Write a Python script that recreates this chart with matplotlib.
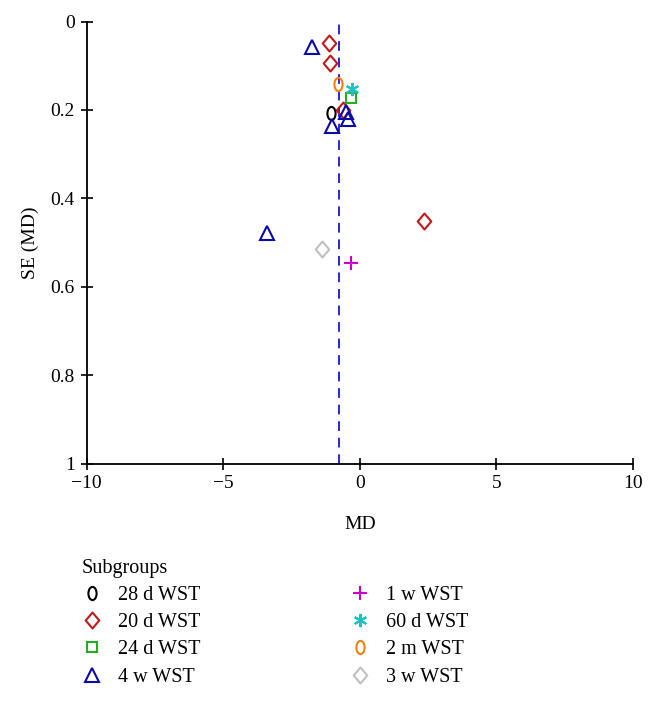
import matplotlib
matplotlib.use("Agg")
import matplotlib.pyplot as plt
import numpy as np
from matplotlib.path import Path
from matplotlib.transforms import Affine2D

plt.rcParams['font.family'] = ['Liberation Serif', 'DejaVu Serif']

# ---- data ----
groups = ["28 d WST", "20 d WST", "24 d WST", "4 w WST",
          "1 w WST", "60 d WST", "2 m WST", "3 w WST"]
md_28d = [-1.04]
se_28d = [0.207]
md_20d = [-1.14, -1.09, -0.63, 2.35]
se_20d = [0.049, 0.094, 0.200, 0.452]
md_24d = [-0.31]
se_24d = [0.173]
md_4w = [-1.75, -0.51, -0.45, -1.02, -3.41]
se_4w = [0.058, 0.204, 0.221, 0.237, 0.478]
md_1w = [-0.33]
se_1w = [0.547]
md_60d = [-0.27]
se_60d = [0.153]
md_2m = [-0.79]
se_2m = [0.141]
md_3w = [-1.39]
se_3w = [0.514]
pooled_md = -0.78

xticks = [-10, -5, 0, 5, 10]
yticks = [0, 0.2, 0.4, 0.6, 0.8, 1]

# ---- marker shapes ----
ellipse = Path.unit_circle().transformed(Affine2D().scale(0.62, 1.0))
diamond = Path([(0, 1), (0.85, 0), (0, -1), (-0.85, 0), (0, 1)],
               [Path.MOVETO, Path.LINETO, Path.LINETO, Path.LINETO, Path.CLOSEPOLY])

styles = {
    "28 d WST": dict(marker=ellipse, color="#000000", ms=9.5),
    "20 d WST": dict(marker=diamond, color="#C01818", ms=11.5),
    "24 d WST": dict(marker="s", color="#22B022", ms=7.5),
    "4 w WST": dict(marker="^", color="#0A0AA8", ms=10.5),
    "1 w WST": dict(marker="+", color="#C800C8", ms=9.5),
    "60 d WST": dict(marker=(6, 2, 0), color="#20C0C0", ms=9.5),
    "2 m WST": dict(marker=ellipse, color="#F08010", ms=9.5),
    "3 w WST": dict(marker=diamond, color="#C0C0C0", ms=11.5),
}
data = {
    "28 d WST": (md_28d, se_28d),
    "20 d WST": (md_20d, se_20d),
    "24 d WST": (md_24d, se_24d),
    "4 w WST": (md_4w, se_4w),
    "1 w WST": (md_1w, se_1w),
    "60 d WST": (md_60d, se_60d),
    "2 m WST": (md_2m, se_2m),
    "3 w WST": (md_3w, se_3w),
}

fig = plt.figure(figsize=(6.57, 7.01), dpi=100)
ax = fig.add_axes([0.132, 0.3388, 0.8315, 0.6305])

ax.axvline(pooled_md, color="#2828D8", lw=1.4, ls=(0, (5, 3.5)), zorder=1)

handles = []
for g in groups:
    x, y = data[g]
    st = styles[g]
    h, = ax.plot(x, y, linestyle="none", marker=st["marker"], ms=st["ms"],
                 mfc="none", mec=st["color"], mew=1.5, label=g, zorder=3)
    handles.append(h)

ax.set_xlim(-10, 10)
ax.set_ylim(1, 0)
ax.set_xticks(xticks)
ax.set_xticklabels(["\u221210", "\u22125", "0", "5", "10"])
ax.set_yticks(yticks)
ax.set_yticklabels(["0", "0.2", "0.4", "0.6", "0.8", "1"])
for s in ["top", "right"]:
    ax.spines[s].set_visible(False)
for s in ["left", "bottom"]:
    ax.spines[s].set_linewidth(1.3)
ax.tick_params(direction="inout", length=9, width=1.2, labelsize=14, pad=4)
ax.set_xlabel("MD", fontsize=14, labelpad=17)
ax.set_ylabel("SE (MD)", fontsize=14, labelpad=8)

leg = fig.legend(handles=handles, ncol=2, loc="upper left",
                 bbox_to_anchor=(82 / 657, 1 - 559 / 701),
                 title="Subgroups", alignment="left", frameon=False,
                 fontsize=14.5, title_fontsize=14.5, columnspacing=7.4,
                 handlelength=1.0, handletextpad=0.8, labelspacing=0.4,
                 borderaxespad=0, borderpad=0)

fig.savefig("out.png", dpi=100)
